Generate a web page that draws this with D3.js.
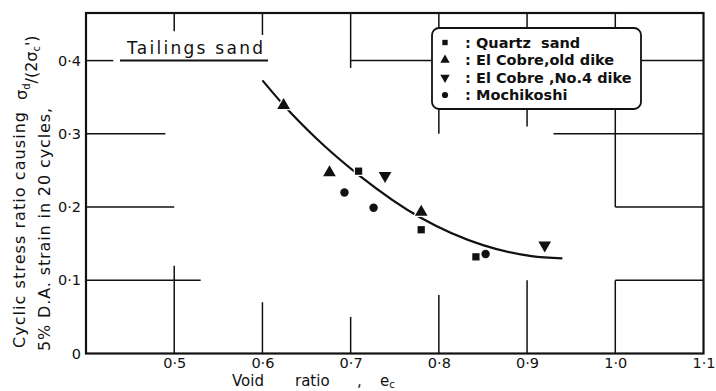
<!DOCTYPE html>
<html>
<head>
<meta charset="utf-8">
<script src="https://cdn.jsdelivr.net/npm/d3@7"></script>
<style>
  body { margin: 0; background: #fff; }
  svg { display: block; }
  text { font-family: "DejaVu Sans", sans-serif; fill: #111; }
</style>
</head>
<body>
<svg id="chart" width="716" height="391"></svg>
<script>
// tick values
var xTicks = [0.5, 0.6, 0.7, 0.8, 0.9, 1.0, 1.1]
var yTicks = [0, 0.1, 0.2, 0.3, 0.4]

// measured points (void ratio, cyclic stress ratio)
var quartzX = [0.709, 0.780, 0.842]
var quartzY = [0.249, 0.169, 0.132]
var oldDikeX = [0.624, 0.676, 0.780]
var oldDikeY = [0.339, 0.247, 0.193]
var no4DikeX = [0.739, 0.920]
var no4DikeY = [0.243, 0.148]
var mochiX = [0.693, 0.726, 0.853]
var mochiY = [0.220, 0.199, 0.136]

// fitted curve
var curveX = [0.600, 0.625, 0.660, 0.710, 0.780, 0.850, 0.905, 0.940]
var curveY = [0.373, 0.338, 0.295, 0.243, 0.185, 0.148, 0.133, 0.130]

// legend entries
var legendNames = ["Quartz  sand", "El Cobre,old dike", "El Cobre ,No.4 dike", "Mochikoshi"]
var legendShapes = ["square", "up", "down", "circle"]

// partial grid lines: [value, from, to]
var hGrid = [[0.4, 0.4, 0.431], [0.4, 0.7, 1.1], [0.3, 0.4, 0.49], [0.3, 0.93, 1.1],
             [0.2, 0.4, 0.5], [0.2, 1.0, 1.1], [0.1, 0.4, 0.53], [0.1, 1.0, 1.1]]
var vGrid = [[0.5, 0.44, 0.465], [0.6, 0.435, 0.465], [0.7, 0.39, 0.465], [0.8, 0.30, 0.465],
             [0.9, 0.31, 0.465], [1.0, 0.2, 0.465], [0.5, 0, 0.12], [0.6, 0, 0.07],
             [0.7, 0, 0.05], [0.8, 0, 0.08], [0.9, 0, 0.1], [1.0, 0, 0.1]]

var plotL = 86, plotR = 703.5, plotT = 13, plotB = 353.5

var x = d3.scaleLinear().domain([0.4, 1.1]).range([plotL, plotR])
var y = d3.scaleLinear().domain([0, 0.465]).range([plotB, plotT])

var svg = d3.select("#chart")
svg.append("rect").attr("width", 716).attr("height", 391).attr("fill", "#fff")

var fmt = function(d) { return d === 0 ? "0" : d3.format(".1f")(d).replace(".", "·") }

// grid pieces
svg.append("g").selectAll("line").data(hGrid).enter().append("line")
  .attr("x1", function(d) { return x(d[1]) }).attr("x2", function(d) { return x(d[2]) })
  .attr("y1", function(d) { return y(d[0]) }).attr("y2", function(d) { return y(d[0]) })
  .attr("stroke", "#111").attr("stroke-width", 1.5)
svg.append("g").selectAll("line").data(vGrid).enter().append("line")
  .attr("x1", function(d) { return x(d[0]) }).attr("x2", function(d) { return x(d[0]) })
  .attr("y1", function(d) { return y(d[1]) }).attr("y2", function(d) { return y(d[2]) })
  .attr("stroke", "#111").attr("stroke-width", 1.5)

// frame
svg.append("rect")
  .attr("x", plotL).attr("y", plotT).attr("width", plotR - plotL).attr("height", plotB - plotT)
  .attr("fill", "none").attr("stroke", "#111").attr("stroke-width", 2.2)

// axes (labels only)
svg.append("g").attr("transform", "translate(0," + plotB + ")")
  .call(d3.axisBottom(x).tickValues(xTicks).tickSize(0).tickPadding(4).tickFormat(fmt))
svg.append("g").attr("transform", "translate(" + (plotL - 1) + ",0)")
  .call(d3.axisLeft(y).tickValues(yTicks).tickSize(0).tickPadding(4).tickFormat(fmt))
svg.selectAll(".domain").remove()
svg.selectAll(".tick text").attr("font-size", 14.5).attr("font-family", "DejaVu Sans").attr("fill", "#111")

// x title
var xt = svg.append("text").attr("y", 386).attr("font-size", 15)
xt.append("tspan").attr("x", 232).text("Void")
xt.append("tspan").attr("x", 295).text("ratio")
xt.append("tspan").attr("x", 357).text(",")
xt.append("tspan").attr("x", 380).text("e")
xt.append("tspan").attr("font-size", 10).attr("dy", 2).text("c")

// y title (rotated, two lines)
var yt = svg.append("g").attr("transform", "rotate(-90)")
yt.append("text").attr("x", -348).attr("y", 25).attr("font-size", 16)
  .attr("textLength", 236).attr("lengthAdjust", "spacing").text("Cyclic stress ratio causing")
yt.append("text").attr("x", -351).attr("y", 50).attr("font-size", 16)
  .attr("textLength", 243).attr("lengthAdjust", "spacing").text("5% D.A. strain in 20 cycles,")
var sig = yt.append("text").attr("x", -100).attr("y", 27).attr("font-size", 16)
sig.append("tspan").text("σ")
sig.append("tspan").attr("font-size", 10).attr("dy", 3).text("d")
sig.append("tspan").attr("dy", 7).text("/(2σ")
sig.append("tspan").attr("font-size", 10).attr("dy", 3).text("c")
sig.append("tspan").attr("dy", -3).text("')")

// Tailings sand label
svg.append("text").attr("x", 127).attr("y", 54).attr("font-size", 17)
  .attr("textLength", 136).attr("lengthAdjust", "spacing").text("Tailings sand")
svg.append("line").attr("x1", 120).attr("x2", 268).attr("y1", y(0.4)).attr("y2", y(0.4))
  .attr("stroke", "#111").attr("stroke-width", 2)

// fitted curve
var pts = curveX.map(function(v, i) { return [v, curveY[i]] })
svg.append("path").datum(pts)
  .attr("d", d3.line().x(function(d) { return x(d[0]) }).y(function(d) { return y(d[1]) }).curve(d3.curveMonotoneX))
  .attr("fill", "none").attr("stroke", "#111").attr("stroke-width", 2.2)

// markers
function symbolFor(shape, size) {
  if (shape == "square") return d3.symbol().type(d3.symbolSquare).size(size * 0.75)()
  if (shape == "circle") return d3.symbol().type(d3.symbolCircle).size(size * 0.8)()
  return d3.symbol().type(d3.symbolTriangle).size(size)()
}
function drawSeries(xs, ys, shape) {
  svg.append("g").selectAll("path").data(xs).enter().append("path")
    .attr("d", symbolFor(shape, 70))
    .attr("transform", function(d, i) {
      return "translate(" + x(d) + "," + y(ys[i]) + ")" + (shape == "down" ? " rotate(180)" : "")
    })
    .attr("fill", "#111").attr("stroke", "#fff").attr("stroke-width", 2.5)
    .style("paint-order", "stroke")
}
drawSeries(quartzX, quartzY, "square")
drawSeries(oldDikeX, oldDikeY, "up")
drawSeries(no4DikeX, no4DikeY, "down")
drawSeries(mochiX, mochiY, "circle")

// legend
var lg = svg.append("g")
lg.append("rect").attr("x", 432).attr("y", 28).attr("width", 209).attr("height", 81)
  .attr("rx", 7).attr("fill", "#fff").attr("stroke", "#111").attr("stroke-width", 1.8)
legendNames.forEach(function(name, i) {
  var yy = 42.5 + i * 17.5
  lg.append("path").attr("d", symbolFor(legendShapes[i], 38))
    .attr("transform", "translate(445," + yy + ")" + (legendShapes[i] == "down" ? " rotate(180)" : ""))
    .attr("fill", "#111")
  lg.append("text").attr("x", 465).attr("y", yy + 5).attr("font-size", 14.5)
    .attr("font-weight", "bold").text(":")
  lg.append("text").attr("x", 476).attr("y", yy + 5).attr("font-size", 14.5)
    .attr("font-weight", "bold").attr("xml:space", "preserve").text(name)
})
</script>
</body>
</html>
